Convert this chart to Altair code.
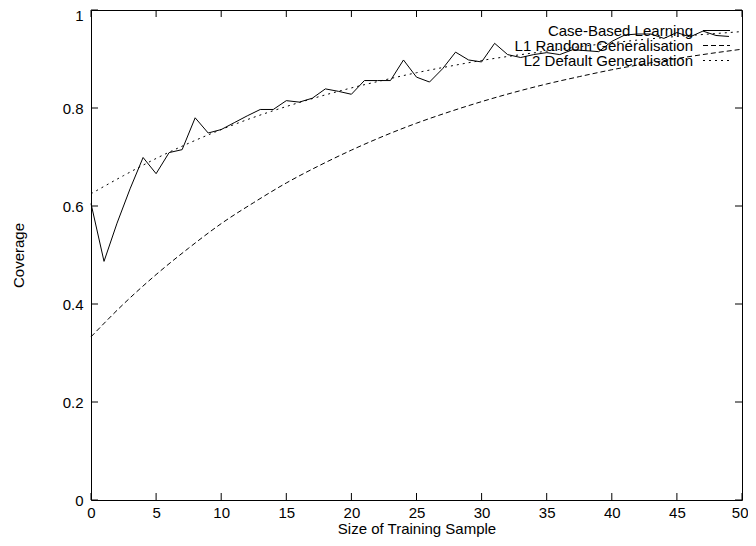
import altair as alt
import pandas as pd

# ---- data ----
cbl_x = list(range(0, 50))
cbl_y = [0.605, 0.487, 0.565, 0.635, 0.699, 0.666, 0.709, 0.715, 0.780, 0.749,
         0.756, 0.770, 0.784, 0.797, 0.797, 0.815, 0.812, 0.820, 0.839, 0.834,
         0.828, 0.856, 0.856, 0.856, 0.898, 0.863, 0.853, 0.880, 0.914, 0.898,
         0.894, 0.932, 0.909, 0.903, 0.909, 0.913, 0.909, 0.919, 0.917, 0.915,
         0.936, 0.949, 0.951, 0.951, 0.942, 0.954, 0.945, 0.957, 0.948, 0.946]

curve_x = [0, 2.5, 5, 7.5, 10, 12.5, 15, 17.5, 20, 22.5, 25, 27.5, 30, 32.5, 35,
           37.5, 40, 42.5, 45, 47.5, 50]
l1_y = [0.333, 0.400, 0.460, 0.514, 0.564, 0.607, 0.647, 0.682, 0.714, 0.743,
        0.769, 0.792, 0.813, 0.832, 0.849, 0.864, 0.878, 0.890, 0.901, 0.911, 0.920]
l2_y = [0.625, 0.662, 0.697, 0.728, 0.756, 0.781, 0.803, 0.823, 0.841, 0.857,
        0.872, 0.885, 0.897, 0.907, 0.916, 0.925, 0.933, 0.940, 0.946, 0.951, 0.956]

x_ticks = [0, 5, 10, 15, 20, 25, 30, 35, 40, 45, 50]
y_ticks = [0, 0.2, 0.4, 0.6, 0.8, 1]

legend_labels = ["Case-Based Learning", "L1 Random Generalisation", "L2 Default Generalisation"]
legend_dash = [[1, 0], [5, 3], [2, 4]]

# ---- layout ----
W, H = 651, 490
FONT = "Liberation Sans"
FS = 15
TICK = 7

xs = alt.Scale(domain=[0, 50], nice=False, zero=False)
ys = alt.Scale(domain=[0, 1], nice=False, zero=False)

xaxis = alt.Axis(
    values=x_ticks, title="Size of Training Sample", labelPadding=5,
    titleY=28, titleBaseline="middle", format="d",
    labelAlign={"condition": {"test": "datum.value >= 50", "value": "right"}, "value": "center"},
    labelOffset={"condition": {"test": "datum.value >= 50", "value": 6}, "value": 0},
)
yaxis = alt.Axis(
    values=y_ticks, title="Coverage", labelPadding=8, format="~g",
    titleX=-73, titleBaseline="middle", titleAngle=-90,
    labelOffset={"condition": {"test": "datum.value >= 1", "value": 5.5}, "value": 0},
)

X = alt.X("x:Q", scale=xs, axis=xaxis)
Y = alt.Y("y:Q", scale=ys, axis=yaxis)

cbl_df = pd.DataFrame({"x": cbl_x, "y": cbl_y})
l1_df = pd.DataFrame({"x": curve_x, "y": l1_y})
l2_df = pd.DataFrame({"x": curve_x, "y": l2_y})

cbl = alt.Chart(cbl_df).mark_line(color="black", strokeWidth=1).encode(x=X, y=Y)
l1 = alt.Chart(l1_df).mark_line(color="black", strokeWidth=1, strokeDash=legend_dash[1],
                                interpolate="monotone").encode(x=X, y=Y)
l2 = alt.Chart(l2_df).mark_line(color="black", strokeWidth=1, strokeDash=legend_dash[2],
                                interpolate="monotone").encode(x=X, y=Y)

# inward ticks (gnuplot style), mirrored on all four sides
xt_df = pd.DataFrame({"x": x_ticks})
yt_df = pd.DataFrame({"y": y_ticks})
tick_bottom = alt.Chart(xt_df).mark_rule(color="black").encode(
    x=X, y=alt.value(H), y2=alt.value(H - TICK))
tick_top = alt.Chart(xt_df).mark_rule(color="black").encode(
    x=X, y=alt.value(0), y2=alt.value(TICK))
tick_left = alt.Chart(yt_df).mark_rule(color="black").encode(
    y=Y, x=alt.value(0), x2=alt.value(TICK))
tick_right = alt.Chart(yt_df).mark_rule(color="black").encode(
    y=Y, x=alt.value(W), x2=alt.value(W - TICK))

# gnuplot-style key: label right-aligned, sample to the right
key_layers = []
row_y = [20.5, 35.5, 50.5]
for lab, dash, ry in zip(legend_labels, legend_dash, row_y):
    kdf = pd.DataFrame({"label": [lab]})
    key_layers.append(
        alt.Chart(kdf).mark_text(align="right", baseline="middle", font=FONT,
                                 fontSize=FS, color="black").encode(
            text="label:N", x=alt.value(602), y=alt.value(ry)))
    key_layers.append(
        alt.Chart(kdf).mark_rule(color="black", strokeWidth=1, strokeDash=dash).encode(
            x=alt.value(612), x2=alt.value(639), y=alt.value(ry)))

chart = alt.layer(
    cbl, l1, l2, tick_bottom, tick_top, tick_left, tick_right, *key_layers
).properties(
    width=W, height=H,
    autosize=alt.AutoSizeParams(type="none"),
    padding={"left": 83, "top": 2, "right": 6, "bottom": 38},
    background="white",
).configure_view(
    stroke="black", strokeWidth=1
).configure_axis(
    domain=False, ticks=False, grid=False,
    labelFont=FONT, labelFontSize=FS, labelColor="black",
    titleFont=FONT, titleFontSize=FS, titleColor="black", titleFontWeight="normal",
)

chart.save("out.html", embed_options={"renderer": "svg", "actions": False})
